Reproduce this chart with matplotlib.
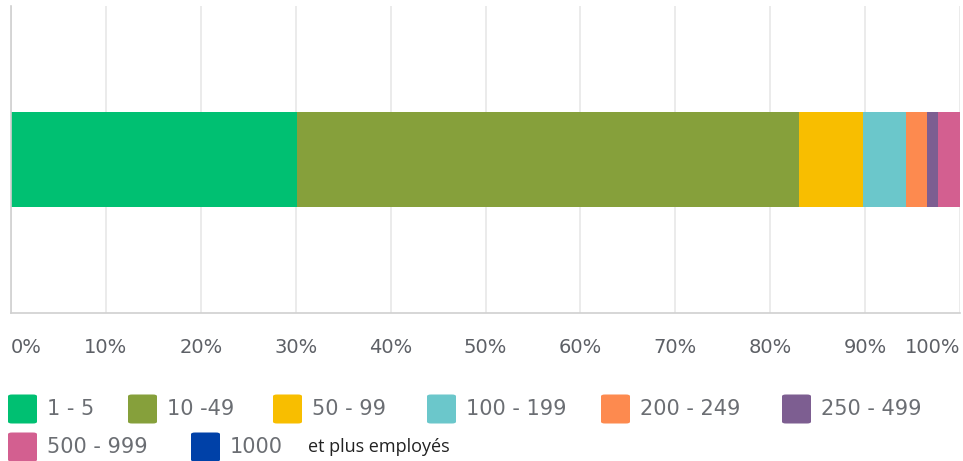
"""Single stacked bar: share of companies by number of employees."""

import matplotlib.pyplot as plt
import numpy as np
from matplotlib.patches import FancyBboxPatch

# size classes (legend labels) and their shares in percent
categories = ['1 - 5', '10 -49', '50 - 99', '100 - 199', '200 - 249',
              '250 - 499', '500 - 999', '1000']
shares = [30.1, 52.9, 6.8, 4.5, 2.2, 1.2, 2.3, 0.0]
colors = ['#00c072', '#86a03b', '#f8be00', '#6bc7cb', '#fd8a4f',
          '#7d5e91', '#d35f90', '#0041a8']
tick_values = [0, 10, 20, 30, 40, 50, 60, 70, 80, 90, 100]
tick_labels = ['0%', '10%', '20%', '30%', '40%', '50%', '60%', '70%',
               '80%', '90%', '100%']
extra_label = 'et plus employés'

W, H = 963, 461
fig = plt.figure(figsize=(W / 100, H / 100), dpi=100)
ax = fig.add_axes([11 / W, 148 / H, 949 / W, 307 / H])

lefts = np.concatenate([[0], np.cumsum(shares)[:-1]])
for share, left, col in zip(shares, lefts, colors):
    ax.barh(0, share, left=left, height=0.31, color=col, linewidth=0, zorder=2)

ax.set_xlim(0, 100)
ax.set_ylim(-0.5, 0.5)
ax.set_yticks([])
ax.set_xticks(tick_values)
ax.set_xticklabels(tick_labels, fontsize=14, color='#5d6066')
ax.tick_params(axis='x', length=0, pad=18)
labels = ax.get_xticklabels()
labels[0].set_horizontalalignment('left')
labels[-1].set_horizontalalignment('right')
ax.grid(axis='x', color='#e8e8e8', linewidth=1.2, zorder=0)
for side in ['top', 'right']:
    ax.spines[side].set_visible(False)
for side in ['left', 'bottom']:
    ax.spines[side].set_color('#d0d0d0')
    ax.spines[side].set_linewidth(1.2)

# hand-placed legend in two rows
row1_x = [8, 128, 273, 427, 601, 782]
row2_x = [8, 191]
positions = [(x, 409) for x in row1_x] + [(x, 447) for x in row2_x]
size = 29
for (px, py), name, col in zip(positions, categories, colors):
    box = FancyBboxPatch(((px) / W, 1 - (py + size / 2) / H),
                         size / W, size / H,
                         boxstyle='round,pad=0,rounding_size=0.004',
                         transform=fig.transFigure, facecolor=col,
                         edgecolor='none')
    fig.patches.append(box)
    fig.text((px + size + 10) / W, 1 - py / H, name, fontsize=15,
             color='#6b6e73', va='center', ha='left')
fig.text(308 / W, 1 - 447 / H, extra_label, fontsize=13, color='#222222',
         va='center', ha='left', family='Open Sans')

fig.savefig('out.png', dpi=100)
